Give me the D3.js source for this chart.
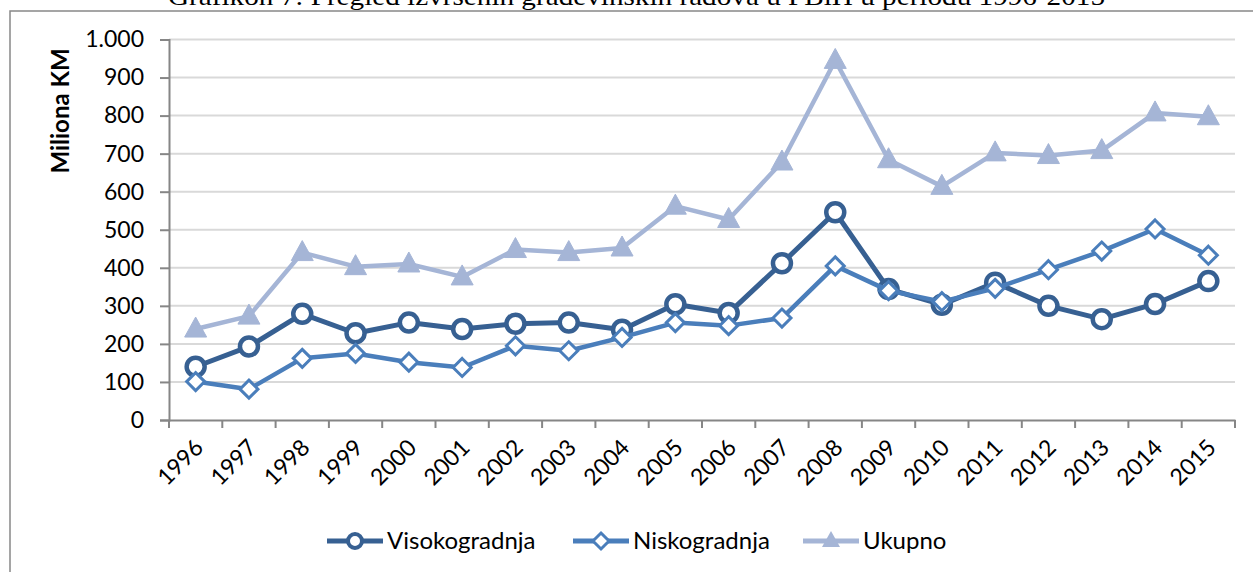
<!DOCTYPE html>
<html><head><meta charset="utf-8">
<script src="https://cdn.jsdelivr.net/npm/d3@7"></script>
<style>body{margin:0;background:#fff}svg{display:block}</style>
</head><body>
<svg id="c" width="1253" height="572"></svg>
<script>
const years = ["1996","1997","1998","1999","2000","2001","2002","2003","2004","2005","2006","2007","2008","2009","2010","2011","2012","2013","2014","2015"];
const visokogradnja = [140,193,279,228,256,239,253,256,237,304,281,412,546,344,303,361,300,265,305,365];
const niskogradnja = [101,81,162,175,152,138,195,182,217,256,248,268,405,340,311,346,395,444,502,433];
const ukupno = [239,273,440,403,410,376,448,440,452,562,527,678,945,684,614,702,695,708,807,797];
const yTicks = [0,100,200,300,400,500,600,700,800,900,1000];
const seriesNames = ["Visokogradnja","Niskogradnja","Ukupno"];

(function(){
const svg = d3.select("#c");
const pLeft = 169, pRight = 1235, pTop = 39.5, pBottom = 420;
const x = d3.scaleBand().domain(years).range([pLeft, pRight]);
const y = d3.scaleLinear().domain([0,1000]).range([pBottom, pTop]);
const fmt = d => d === 1000 ? "1.000" : String(d);

// outer border
svg.append("rect").attr("x",10).attr("y",11).attr("width",1260).attr("height",600)
  .attr("fill","none").attr("stroke","#888").attr("stroke-width",1.5);

// title (partly cut at the top edge, as in the reference)
svg.append("text").attr("x",168).attr("y",5)
  .attr("font-family","Liberation Serif").attr("font-size",26)
  .attr("textLength",937).attr("lengthAdjust","spacingAndGlyphs")
  .text("Grafikon 7: Pregled izvršenih građevinskih radova u FBiH u periodu 1996-2015");

// gridlines
svg.append("g").selectAll("line").data(yTicks.filter(d=>d>0)).join("line")
  .attr("x1",pLeft).attr("x2",pRight).attr("y1",d=>y(d)).attr("y2",d=>y(d))
  .attr("stroke","#d9d9d9").attr("stroke-width",2);

// y axis
const ya = svg.append("g").attr("transform",`translate(${pLeft},0)`)
  .call(d3.axisLeft(y).tickValues(yTicks).tickFormat(fmt).tickSize(9).tickPadding(16));
ya.select(".domain").attr("stroke","#868686").attr("stroke-width",2);
ya.selectAll(".tick line").attr("stroke","#868686").attr("stroke-width",2);
ya.selectAll("text").attr("font-family","Lato").attr("font-size",23).attr("fill","#000");

// x axis
const xa = svg.append("g").attr("transform",`translate(0,${pBottom})`)
  .call(d3.axisBottom(x).tickSize(0).tickPadding(0));
xa.select(".domain").attr("stroke","#868686").attr("stroke-width",2);
xa.selectAll(".tick text").attr("font-family","Lato").attr("font-size",23).attr("fill","#000")
  .attr("text-anchor","end").attr("dy",0).attr("y",0)
  .attr("transform","translate(9,29) rotate(-45)");
// boundary ticks
svg.append("g").selectAll("line").data(d3.range(years.length+1)).join("line")
  .attr("x1",i=>pLeft + i*x.step()).attr("x2",i=>pLeft + i*x.step())
  .attr("y1",pBottom).attr("y2",pBottom+8).attr("stroke","#868686").attr("stroke-width",2);

// y title
svg.append("text").attr("transform","translate(69,111) rotate(-90)")
  .attr("text-anchor","middle").attr("font-family","Lato").attr("font-weight","bold")
  .attr("font-size",24).text("Miliona KM");

const cx = (d,i) => x(years[i]) + x.bandwidth()/2;
const line = d3.line().x((d,i)=>cx(d,i)).y(d=>y(d));
const colors = ["#376092","#4A7EBB","#A5B5D6"];

function drawSeries(data, color, type){
  const g = svg.append("g");
  g.append("path").datum(data).attr("d",line).attr("fill","none")
    .attr("stroke",color).attr("stroke-width",type==="circle"?5:4.5).attr("stroke-linejoin","round");
  if(type==="circle"){
    g.selectAll("circle").data(data).join("circle").attr("cx",cx).attr("cy",d=>y(d))
      .attr("r",9).attr("fill","#fff").attr("stroke",color).attr("stroke-width",4.5);
  } else if(type==="diamond"){
    g.selectAll("path.m").data(data).join("path").attr("class","m")
      .attr("d",(d,i)=>{const X=cx(d,i),Y=y(d),s=9;return `M${X},${Y-s}L${X+s},${Y}L${X},${Y+s}L${X-s},${Y}Z`;})
      .attr("fill","#fff").attr("stroke",color).attr("stroke-width",3);
  } else {
    g.selectAll("path.m").data(data).join("path").attr("class","m")
      .attr("d",(d,i)=>{const X=cx(d,i),Y=y(d);return `M${X},${Y-12}L${X+11},${Y+8}L${X-11},${Y+8}Z`;})
      .attr("fill",color).attr("stroke",color).attr("stroke-width",1);
  }
}
drawSeries(visokogradnja, colors[0], "circle");
drawSeries(niskogradnja, colors[1], "diamond");
drawSeries(ukupno, colors[2], "triangle");

// legend
const legX = [327, 573, 803];
const lg = svg.append("g");
seriesNames.forEach((name,i)=>{
  const x0 = legX[i], ly = 541, c = colors[i];
  lg.append("line").attr("x1",x0).attr("x2",x0+56).attr("y1",ly).attr("y2",ly)
    .attr("stroke",c).attr("stroke-width",5);
  const mx = x0+28;
  if(i===0) lg.append("circle").attr("cx",mx).attr("cy",ly).attr("r",7).attr("fill","#fff").attr("stroke",c).attr("stroke-width",4);
  if(i===1) lg.append("path").attr("d",`M${mx},${ly-8}L${mx+8},${ly}L${mx},${ly+8}L${mx-8},${ly}Z`).attr("fill","#fff").attr("stroke",c).attr("stroke-width",3);
  if(i===2) lg.append("path").attr("d",`M${mx},${ly-10}L${mx+9},${ly+6}L${mx-9},${ly+6}Z`).attr("fill",c);
  lg.append("text").attr("x",x0+60).attr("y",ly+8).attr("font-family","Lato").attr("font-size",24).text(name);
});
})();
</script>
</body></html>
